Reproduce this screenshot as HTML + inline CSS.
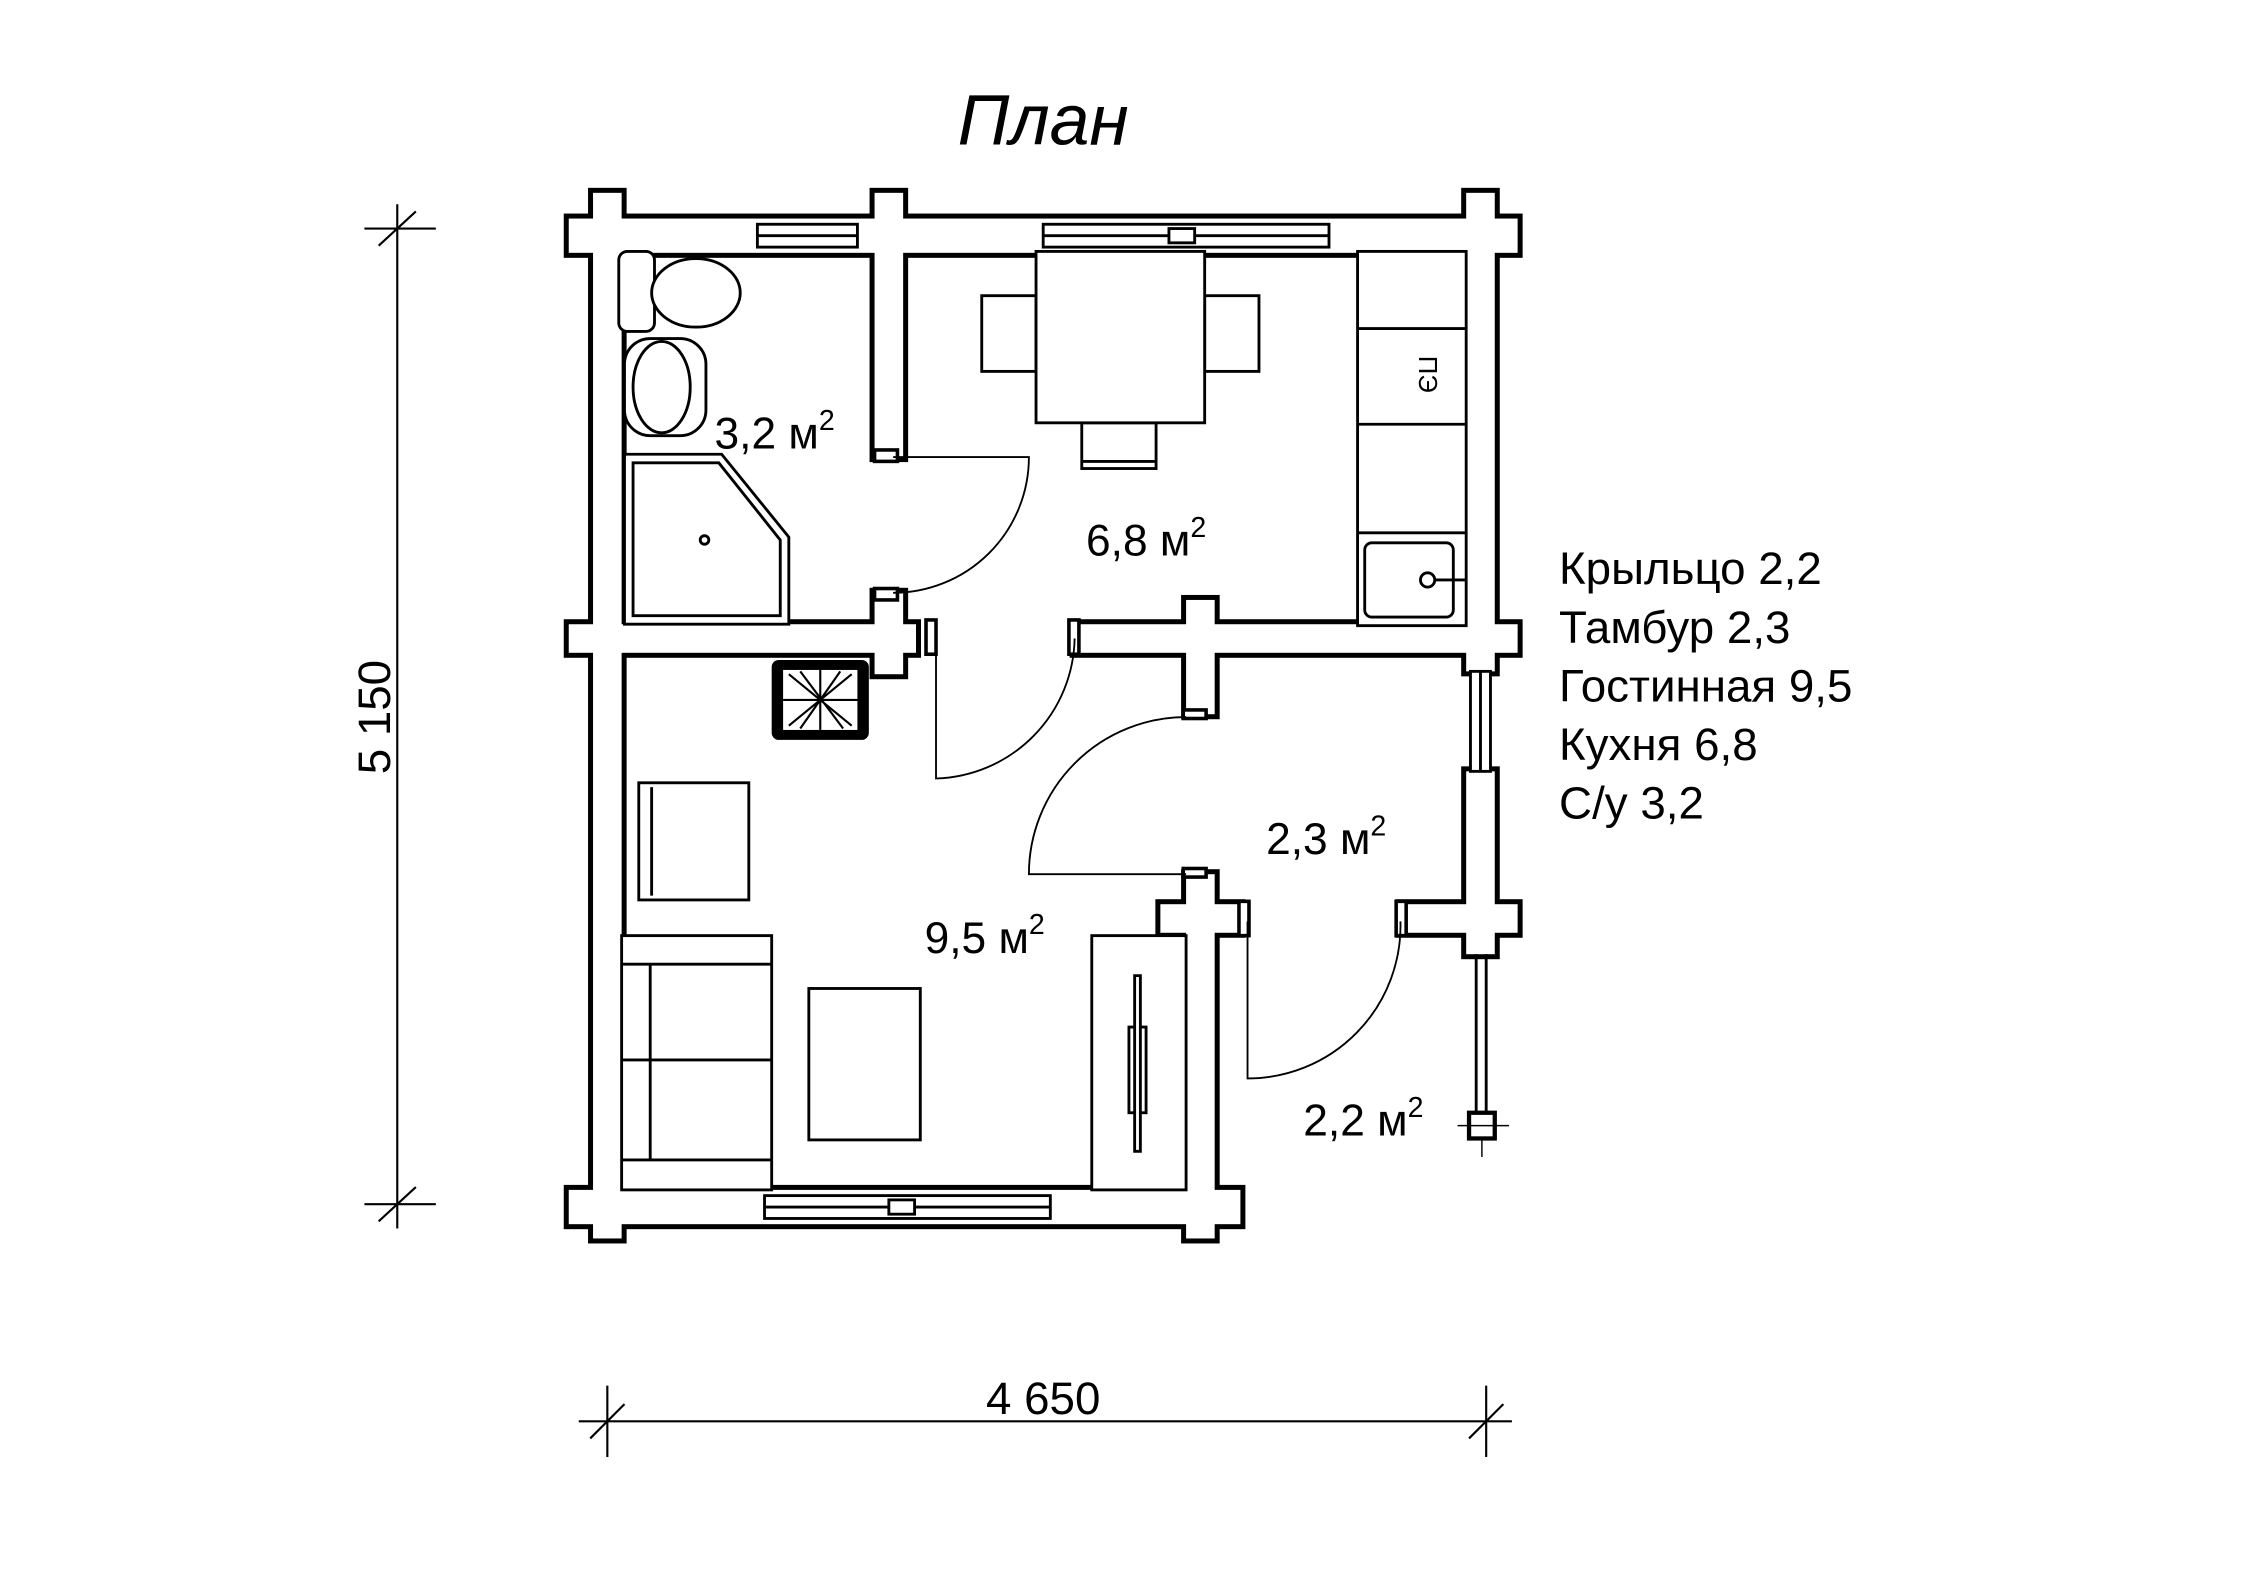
<!DOCTYPE html>
<html><head><meta charset="utf-8"><style>html,body{margin:0;padding:0;background:#fff}svg{display:block}</style></head>
<body>
<svg width="2245" height="1587" viewBox="0 0 1571 1111" preserveAspectRatio="none" xmlns="http://www.w3.org/2000/svg" font-family="Liberation Sans, sans-serif">
<rect width="1571" height="1111" fill="#fff"/>
<text x="730" y="101" font-size="50" font-style="italic" text-anchor="middle">План</text>
<g stroke="#000" stroke-width="1.5">
<line x1="278" y1="143" x2="278" y2="860"/>
<line x1="255" y1="160" x2="305" y2="160"/><line x1="265" y1="172" x2="291" y2="148"/>
<line x1="255" y1="843" x2="305" y2="843"/><line x1="265" y1="855" x2="291" y2="831"/>
<line x1="405" y1="995" x2="1058" y2="995"/>
<line x1="425" y1="970" x2="425" y2="1020"/><line x1="413" y1="1007" x2="437" y2="983"/>
<line x1="1040" y1="970" x2="1040" y2="1020"/><line x1="1028" y1="1007" x2="1052" y2="983"/>
</g>
<text x="730" y="990" font-size="32" text-anchor="middle">4 650</text>
<text transform="translate(273,502) rotate(-90)" font-size="32" text-anchor="middle">5 150</text>
<g fill="#000" stroke="#000" stroke-width="7" stroke-linejoin="miter">
<rect x="398" y="153" width="664" height="24"/><rect x="415" y="135" width="20" height="732"/>
<rect x="1026" y="135" width="20" height="335"/><rect x="398" y="437" width="243" height="20"/>
<rect x="612" y="415" width="20" height="57"/><rect x="752" y="437" width="310" height="20"/>
<rect x="830" y="420" width="20" height="80"/><rect x="612" y="135" width="20" height="185"/>
<rect x="830" y="612" width="20" height="255"/><rect x="812" y="633" width="56" height="20"/>
<rect x="980" y="633" width="82" height="20"/><rect x="1026" y="540" width="20" height="128"/>
<rect x="398" y="833" width="470" height="24"/>
</g>
<g fill="#fff">
<rect x="398" y="153" width="664" height="24"/><rect x="415" y="135" width="20" height="732"/>
<rect x="1026" y="135" width="20" height="335"/><rect x="398" y="437" width="243" height="20"/>
<rect x="612" y="415" width="20" height="57"/><rect x="752" y="437" width="310" height="20"/>
<rect x="830" y="420" width="20" height="80"/><rect x="612" y="135" width="20" height="185"/>
<rect x="830" y="612" width="20" height="255"/><rect x="812" y="633" width="56" height="20"/>
<rect x="980" y="633" width="82" height="20"/><rect x="1026" y="540" width="20" height="128"/>
<rect x="398" y="833" width="470" height="24"/>
</g>
<g fill="#fff" stroke="#000" stroke-width="2">
<rect x="530" y="157" width="70" height="16"/><line x1="530" y1="165" x2="600" y2="165"/>
<rect x="730" y="157" width="200" height="16"/><line x1="730" y1="165" x2="930" y2="165"/>
<rect x="818" y="160" width="18" height="10"/>
<rect x="535" y="837" width="200" height="16"/><line x1="535" y1="845" x2="735" y2="845"/>
<rect x="622" y="840" width="18" height="10"/>
<rect x="1029" y="470" width="14" height="70"/><line x1="1036" y1="470" x2="1036" y2="540"/>
<line x1="1033" y1="668" x2="1033" y2="780"/><line x1="1040" y1="668" x2="1040" y2="780"/>
<rect x="1028" y="779" width="18" height="18" stroke-width="3"/>
</g>
<g stroke="#000" stroke-width="1"><line x1="1020" y1="788" x2="1056" y2="788"/><line x1="1037" y1="797" x2="1037" y2="810"/></g>
<g fill="#fff" stroke="#000" stroke-width="2.5">
<rect x="612" y="315" width="16" height="8"/><rect x="612" y="412" width="16" height="8"/>
<rect x="648" y="434" width="7" height="24"/><rect x="748" y="434" width="7" height="24"/>
<rect x="828" y="497" width="16" height="6"/><rect x="828" y="608" width="16" height="6"/>
<rect x="867" y="631" width="7" height="24"/><rect x="977" y="631" width="7" height="24"/>
</g>
<g fill="none" stroke="#000" stroke-width="1.3">
<path d="M625 320 H720 A95 95 0 0 1 625 415"/>
<path d="M655 447 V545 A100 100 0 0 0 752 447"/>
<path d="M830 612 H720 A110 110 0 0 1 830 502"/>
<path d="M873 645 V755 A107 107 0 0 0 980 645"/>
</g>
<g fill="#fff" stroke="#000" stroke-width="2">
<rect x="433" y="176" width="25" height="56" rx="6"/>
<ellipse cx="487" cy="205" rx="31" ry="24"/>
<rect x="437" y="237" width="57" height="68" rx="18"/>
<ellipse cx="463" cy="271" rx="20" ry="32"/>
<path d="M437 318 H505 L552 376 V437 H437 Z"/>
<path d="M443 324 H503 L546 378 V431 H443 Z"/>
<circle cx="493" cy="378" r="3"/>
<rect x="687" y="207" width="38" height="53"/><rect x="843" y="207" width="38" height="53"/>
<rect x="757" y="296" width="52" height="32"/><line x1="757" y1="323" x2="809" y2="323"/>
<rect x="725" y="176" width="118" height="120"/>
<rect x="950" y="176" width="76" height="262"/>
<line x1="950" y1="230" x2="1026" y2="230"/><line x1="950" y1="297" x2="1026" y2="297"/><line x1="950" y1="373" x2="1026" y2="373"/>
<rect x="955" y="380" width="62" height="52" rx="5"/>
<circle cx="999" cy="406" r="5"/><line x1="1004" y1="406" x2="1026" y2="406"/>
<rect x="447" y="548" width="77" height="82"/><line x1="456" y1="551" x2="456" y2="627"/>
<rect x="435" y="655" width="105" height="178"/><line x1="455" y1="675" x2="455" y2="812"/>
<line x1="435" y1="675" x2="540" y2="675"/><line x1="435" y1="742" x2="540" y2="742"/><line x1="435" y1="812" x2="540" y2="812"/>
<rect x="566" y="692" width="78" height="106"/>
<rect x="764" y="655" width="66" height="178"/>
<rect x="790" y="719" width="12" height="60"/>
<path d="M794 683 L798 683 L798 806 L794 806 Z"/>
</g>
<text transform="translate(993,262) rotate(90)" font-size="18" text-anchor="middle">ПЭ</text>
<rect x="540" y="462" width="68" height="56" rx="5" fill="#000"/>
<rect x="548" y="469" width="52" height="42" fill="#fff"/>
<g stroke="#000" stroke-width="1.5" fill="none"><path d="M552 472 L596 508 M596 472 L552 508 M574 469 L574 511 M548 490 L600 490 M560 470 L590 510 M588 470 L560 510"/></g>
<g font-size="31">
<text x="500" y="314">3,2 м<tspan font-size="20" dy="-13">2</tspan></text>
<text x="760" y="389">6,8 м<tspan font-size="20" dy="-13">2</tspan></text>
<text x="647" y="667">9,5 м<tspan font-size="20" dy="-13">2</tspan></text>
<text x="886" y="598">2,3 м<tspan font-size="20" dy="-13">2</tspan></text>
<text x="912" y="795">2,2 м<tspan font-size="20" dy="-13">2</tspan></text>
</g>
<g font-size="32">
<text x="1091" y="409">Крыльцо 2,2</text>
<text x="1091" y="450">Тамбур 2,3</text>
<text x="1091" y="491">Гостинная 9,5</text>
<text x="1091" y="532">Кухня 6,8</text>
<text x="1091" y="573">С/у 3,2</text>
</g>
</svg>
</body></html>
